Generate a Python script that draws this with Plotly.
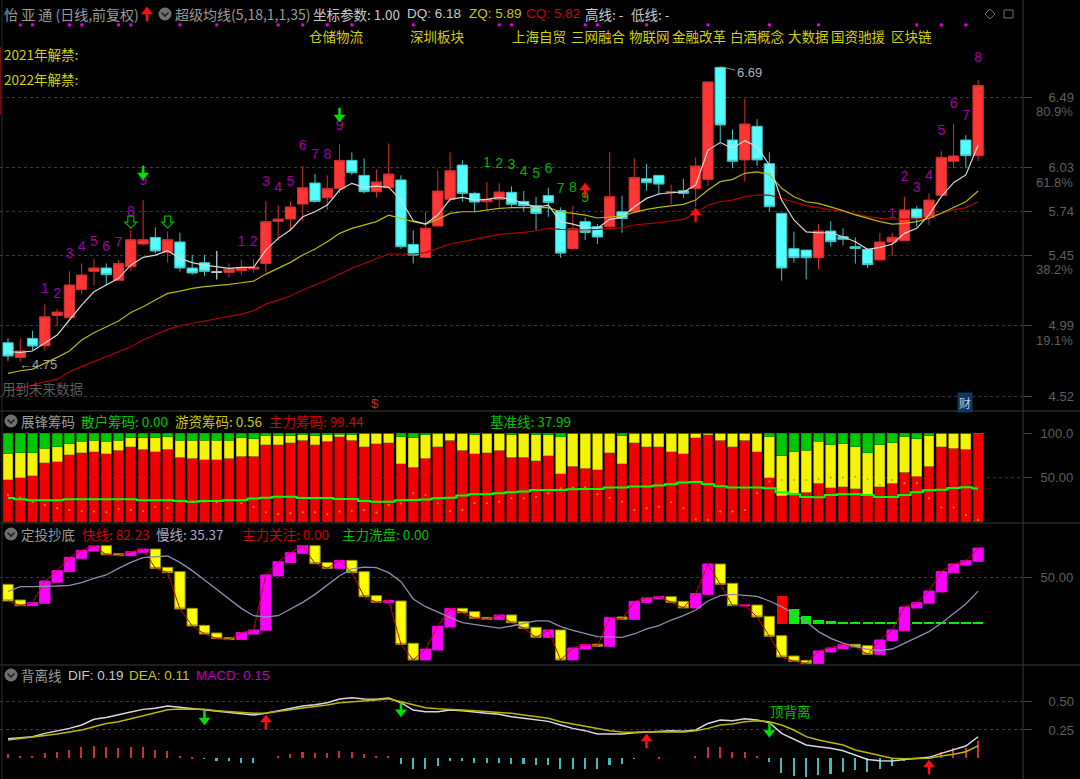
import plotly.graph_objects as go

W, H = 1080, 779
SPLIT = 1023

# ---------- main panel ----------
k_open = [4.875,4.779,4.904,4.856,5.055,5.040,5.226,5.345,5.367,5.286,5.375,5.525,5.568,5.470,5.538,5.367,5.402,5.340,5.338,5.349,
          5.360,5.397,5.674,5.689,5.788,5.926,5.829,5.891,6.075,5.976,5.869,5.895,5.946,5.522,5.437,5.643,5.819,6.044,5.858,5.803,
          5.819,5.865,5.805,5.777,5.843,5.744,5.494,5.672,5.639,5.639,5.737,5.737,5.954,5.976,5.862,5.875,5.889,5.950,6.687,6.209,
          6.078,6.299,6.053,5.727,5.494,5.485,5.435,5.610,5.573,5.507,5.490,5.420,5.538,5.547,5.755,5.700,5.845,6.069,6.209,6.106]
k_close = [4.788,4.821,4.854,5.046,5.077,5.255,5.321,5.367,5.323,5.397,5.553,5.553,5.479,5.553,5.367,5.334,5.345,5.340,5.360,5.371,
           5.373,5.672,5.689,5.768,5.895,5.805,5.889,6.075,5.994,5.869,5.933,5.985,5.507,5.452,5.628,5.873,6.007,5.858,5.801,5.819,
           5.867,5.786,5.777,5.726,5.799,5.465,5.625,5.601,5.571,5.836,5.693,5.963,5.928,5.919,5.869,5.858,6.038,6.591,6.308,6.069,
           6.314,6.078,5.770,5.367,5.435,5.435,5.610,5.540,5.556,5.496,5.389,5.538,5.569,5.749,5.696,5.814,6.095,6.104,6.106,6.567]
k_high = [4.905,4.904,4.954,5.130,5.099,5.345,5.397,5.426,5.397,5.419,5.617,5.814,5.634,5.606,5.599,5.454,5.454,5.479,5.397,5.424,
          5.426,5.807,5.779,5.807,6.038,5.985,5.976,6.182,6.128,6.088,6.016,6.187,5.976,5.615,5.737,6.007,6.128,6.075,5.869,5.933,
          5.924,5.904,5.873,5.836,5.895,5.766,5.775,5.700,5.656,6.128,5.843,6.088,6.051,5.981,5.917,5.954,6.095,6.591,6.690,6.279,
          6.479,6.345,6.128,5.727,5.606,5.485,5.656,5.674,5.628,5.569,5.490,5.599,5.599,5.836,5.775,5.858,6.135,6.314,6.240,6.604]
k_low = [4.757,4.750,4.827,4.823,4.985,5.040,5.196,5.255,5.255,5.286,5.349,5.514,5.463,5.404,5.343,5.323,5.314,5.292,5.305,5.321,
         5.336,5.336,5.551,5.617,5.674,5.797,5.748,5.858,5.979,5.858,5.829,5.895,5.492,5.397,5.437,5.643,5.803,5.803,5.737,5.748,
         5.766,5.770,5.742,5.617,5.704,5.435,5.494,5.551,5.525,5.628,5.599,5.737,5.875,5.847,5.786,5.829,5.770,5.906,6.192,6.023,
         5.935,6.038,5.740,5.284,5.402,5.292,5.360,5.507,5.516,5.396,5.367,5.420,5.446,5.547,5.639,5.648,5.845,6.025,6.023,6.069]
ma_white = [4.816,4.812,4.821,4.875,4.926,5.025,5.123,5.211,5.255,5.299,5.386,5.437,5.452,5.481,5.430,5.402,5.386,5.375,5.364,5.371,
            5.371,5.485,5.562,5.617,5.704,5.737,5.781,5.880,5.924,5.897,5.906,5.897,5.814,5.678,5.656,5.715,5.819,5.832,5.814,5.819,
            5.832,5.819,5.792,5.766,5.781,5.672,5.656,5.634,5.628,5.687,5.700,5.770,5.825,5.854,5.862,5.867,5.913,6.143,6.192,6.154,
            6.205,6.165,6.045,5.814,5.683,5.604,5.599,5.599,5.573,5.540,5.490,5.503,5.523,5.595,5.628,5.716,5.836,5.928,5.979,6.176]
ma_yellow = [4.674,4.691,4.702,4.739,4.779,4.821,4.893,4.941,4.981,5.018,5.075,5.112,5.156,5.200,5.215,5.233,5.244,5.250,5.259,5.270,
             5.281,5.327,5.364,5.404,5.452,5.492,5.540,5.595,5.628,5.650,5.672,5.715,5.693,5.672,5.656,5.687,5.726,5.737,5.737,5.748,
             5.759,5.764,5.766,5.764,5.764,5.737,5.726,5.715,5.696,5.704,5.709,5.733,5.753,5.766,5.775,5.786,5.814,5.880,5.935,5.950,
             5.990,5.999,5.983,5.891,5.836,5.803,5.792,5.770,5.744,5.716,5.694,5.672,5.656,5.661,5.672,5.694,5.727,5.766,5.803,5.874]
ma_red = [4.560,4.575,4.597,4.619,4.634,4.685,4.718,4.750,4.783,4.816,4.849,4.893,4.926,4.963,4.987,5.003,5.020,5.036,5.051,5.064,
          5.086,5.130,5.156,5.183,5.222,5.255,5.288,5.327,5.365,5.397,5.430,5.459,5.459,5.459,5.468,5.496,5.525,5.540,5.555,5.568,
          5.588,5.595,5.601,5.612,5.628,5.621,5.617,5.617,5.621,5.628,5.632,5.650,5.656,5.665,5.676,5.687,5.727,5.781,5.803,5.814,
          5.836,5.847,5.847,5.825,5.803,5.777,5.764,5.749,5.740,5.722,5.705,5.694,5.689,5.689,5.689,5.698,5.727,5.749,5.764,5.803]
doji_idx = [17]
dot_idx = [1,2,5,6,9,10,14,17,22,24,26,28,33,40,41,47,48,52,57,62,66,74,76,78]
dot_level = 6.966

purple_idx = [3,4,5,6,7,8,9,10,11,19,20,21,22,23,24,25,26,27,72,73,74,75,76,77,78,79]
purple_txt = ["1","2","3","4","5","6","7","8","9","1","2","3","4","5","6","7","8","9","1","2","3","4","5","6","7","8"]
purple_y = [5.226,5.196,5.459,5.503,5.533,5.503,5.525,5.733,5.935,5.533,5.533,5.928,5.889,5.928,6.163,6.110,6.104,6.301,
            5.716,5.961,5.891,5.972,6.264,6.444,6.363,6.742]
green_idx = [39,40,41,42,43,44,45,46,47]
green_txt = ["1","2","3","4","5","6","7","8","9"]
green_y = [6.055,6.051,6.038,5.994,5.979,6.018,5.884,5.891,5.825]

price_ticks = [6.49,6.03,5.74,5.45,4.99,4.52]
pct_labels = ["80.9%","61.8%","38.2%","19.1%"]
pct_levels = [6.395,5.930,5.357,4.893]
concepts = ["仓储物流","深圳板块","上海自贸","三网融合","物联网","金融改革","白酒概念","大数据","国资驰援","区块链"]
concept_px = [310,411,513,572,630,673,731,789,832,892]

# ---------- 展锋筹码 ----------
chip_red = [47.6,50.2,52.4,66.7,68.2,75.7,78.3,79.4,76.8,80.9,84.6,82.0,79.4,82.0,73.0,71.9,70.4,70.4,71.9,74.2,
            74.2,86.9,86.9,89.5,92.1,86.9,91.0,95.9,92.1,84.6,88.4,89.5,65.5,61.8,71.9,84.6,92.1,80.9,76.8,78.3,
            80.9,73.0,73.0,69.3,74.5,54.3,62.9,60.7,59.2,78.3,65.5,89.5,84.6,84.6,79.4,76.8,94.8,98.5,92.1,84.6,
            92.1,79.4,50.2,30.0,32.6,33.7,43.8,39.0,40.1,37.5,30.0,40.1,43.8,56.2,51.7,62.9,84.6,83.1,82.0,99.44]
chip_yellow_top = [76.8,78.3,78.3,83.1,84.6,88.4,91.0,92.1,91.0,92.1,94.8,94.8,94.8,95.9,92.1,92.1,92.1,92.1,92.1,94.8,
                   93.6,97.4,97.4,97.4,98.5,97.4,98.5,98.9,98.5,99.6,99.6,99.6,96.3,94.8,98.5,99.6,99.6,99.6,98.1,99.6,
                   99.6,98.1,99.6,98.1,98.1,95.9,99.6,99.6,99.6,99.6,97.4,99.6,99.6,99.6,99.6,99.6,99.6,99.6,99.6,99.6,
                   99.6,99.6,95.9,74.5,79.4,80.9,91.0,87.3,88.4,84.6,78.3,87.3,89.5,95.9,93.6,97.4,99.6,99.6,99.6,100.0]
chip_line = [27.3,25.8,24.7,24.7,24.7,25.8,25.8,25.8,25.8,25.8,25.8,24.7,24.7,24.7,24.0,23.2,24.0,24.0,24.7,24.7,
             26.6,27.7,28.8,28.8,27.3,27.3,27.3,26.2,26.2,24.0,23.2,23.2,24.7,25.1,25.5,27.0,27.7,30.0,31.5,31.5,
             32.6,33.7,34.5,36.3,36.3,36.3,37.1,37.5,37.5,39.0,39.0,40.1,40.1,41.2,42.7,44.6,45.3,42.7,40.4,39.0,
             39.0,39.0,38.2,33.7,31.5,28.5,28.1,30.7,31.5,31.5,30.7,28.5,28.5,30.7,33.7,36.0,36.7,38.6,39.3,37.99]
chip_dots = [30.7,27.7,23.2,19.5,15.7,13.9,12.7,12.0,11.2,15.0,13.9,12.7,17.6,15.7,23.2,23.2,23.2,22.5,25.1,21.3,
             17.6,11.2,9.0,10.1,11.2,11.2,9.0,12.0,12.7,13.9,10.9,19.5,21.0,32.6,30.7,21.3,12.7,13.9,21.3,21.3,
             23.2,27.0,27.0,28.8,32.6,38.2,39.0,39.3,31.5,27.7,23.2,13.9,15.7,17.6,22.5,15.7,3.7,2.6,12.0,12.0,
             13.9,32.6,45.7,47.6,47.6,47.6,48.7,50.2,50.2,51.3,48.7,41.9,47.6,43.8,43.8,27.0,16.5,16.5,8.2,2.6]

# ---------- 定投抄底 ----------
fast_open = [42.8,25.8,19.6,22.2,45.0,56.6,71.1,79.0,84.8,76.1,74.0,77.6,81.2,61.3,56.6,16.7,-1.8,-10.1,-15.2,-17.3,
             -11.2,-7.2,51.9,66.4,76.5,84.8,66.4,60.2,68.9,56.6,30.5,23.2,24.7,-21.3,-39.4,-28.6,-3.6,16.7,13.1,6.9,
             4.8,9.5,2.2,-3.9,-14.8,-6.8,-39.4,-27.5,-22.4,-24.6,7.3,4.8,23.2,27.2,29.4,24.3,17.1,31.9,64.9,43.9,
             19.3,20.3,8.0,-13.0,-35.1,-39.8,-43.4,-30.7,-27.1,-22.4,-23.9,-33.3,-18.4,-7.6,17.1,22.2,34.5,55.5,63.8,67.8]
fast_close = [24.7,19.6,22.9,46.4,57.7,72.2,79.8,84.5,75.0,74.0,78.3,81.2,60.2,55.5,16.0,-2.5,-11.2,-16.2,-17.3,-9.7,
              -6.8,53.0,67.4,77.2,84.8,65.3,60.2,68.9,55.5,29.4,23.2,25.4,-22.4,-39.4,-27.5,-2.8,16.7,12.0,5.9,4.8,
              9.5,1.1,-5.0,-14.8,-6.8,-39.4,-26.4,-22.8,-24.6,6.9,4.8,24.3,28.0,29.4,23.2,17.1,32.7,64.9,42.8,19.6,
              20.3,7.3,-13.7,-36.2,-40.9,-43.4,-29.6,-26.4,-22.4,-25.3,-33.3,-17.7,-6.8,18.2,22.9,35.6,56.6,64.9,68.5,82.23]
slow_line = [34.8,40.3,40.3,40.3,41.0,41.7,44.6,49.3,53.0,60.2,66.7,71.8,72.9,73.6,66.7,57.7,47.5,37.4,27.6,16.7,
             8.7,7.3,8.7,16.0,23.2,31.9,42.1,52.2,59.5,61.6,60.9,55.5,45.7,26.9,18.5,12.4,6.9,1.1,-0.7,-3.2,
             -4.7,-2.5,0.4,3.0,3.0,-3.2,-7.2,-10.4,-14.1,-14.4,-14.8,-11.2,-5.7,-2.1,4.0,8.7,14.9,24.7,30.5,31.9,
             31.2,29.8,24.7,18.5,10.2,2.2,-8.6,-15.9,-21.0,-24.9,-27.8,-29.3,-27.5,-21.3,-14.8,-8.6,0.4,11.3,21.4,35.37]
focus_idx = [63]
focus_val = [30.4]
wash_idx = [64,65,66,67,68,69,70,71,72,73,74,75,76,77,78,79]
wash_val = [15.6,8.0,4.3,2.9,1.8,1.8,1.8,1.8,1.5,0.9,0.9,0.9,0.9,0.9,0.9,0.9]

# ---------- 背离线 ----------
dif = [.173,.185,.191,.220,.241,.264,.294,.344,.361,.382,.409,.432,.441,.462,.450,.444,.426,.414,.403,.391,
       .382,.397,.420,.441,.462,.473,.491,.523,.535,.523,.521,.532,.491,.426,.412,.412,.426,.420,.406,.397,
       .388,.367,.353,.338,.326,.294,.264,.244,.214,.214,.214,.226,.232,.241,.244,.238,.250,.308,.338,.332,
       .350,.338,.314,.220,.167,.117,.102,.088,.067,.029,-.010,-.021,-.024,-.010,-.004,.008,.043,.073,.108,.19]
dea = [.161,.173,.185,.197,.214,.232,.250,.279,.308,.323,.350,.379,.403,.429,.435,.435,.432,.420,.414,.403,
       .397,.400,.412,.429,.444,.456,.470,.491,.497,.503,.515,.526,.500,.473,.447,.438,.429,.426,.420,.412,
       .403,.397,.382,.367,.353,.323,.303,.285,.264,.244,.232,.229,.235,.235,.235,.232,.244,.264,.294,.303,
       .323,.332,.323,.294,.250,.191,.161,.141,.117,.073,.049,.023,.000,-.004,-.004,.000,.020,.035,.058,.11]
macd = [.035,.024,.024,.047,.059,.077,.097,.106,.097,.088,.097,.097,.077,.065,.024,.003,-.005,-.027,-.027,-.038,
        -.038,0,.018,.038,.056,.047,.047,.065,.056,.035,.018,.018,-.047,-.097,-.097,-.065,-.027,-.027,-.038,-.038,
        -.038,-.05,-.05,-.059,-.059,-.094,-.094,-.094,-.094,-.059,-.047,-.006,0,.006,0,0,.018,.097,.097,.053,
        .053,.024,-.035,-.130,-.153,-.168,-.144,-.138,-.118,-.106,-.118,-.097,-.065,-.024,-.006,0,.053,.088,.094,.15]

xs = list(range(len(k_open)))
FONT = "Liberation Sans, Noto Sans CJK SC"
CJK = "Noto Sans CJK SC, Liberation Sans"
GRAY = "#9a9a9a"
TICK = "#5e5e5e"


def py(px):
    return 1 - px / H


def fx(px):
    return px / SPLIT


fig = go.Figure()

# ---- main panel traces
fig.add_trace(go.Candlestick(
    x=xs, open=k_open, high=k_high, low=k_low, close=k_close, yaxis="y", xaxis="x", whiskerwidth=0,
    increasing=dict(line=dict(color="#d63030", width=1), fillcolor="#ff3636"),
    decreasing=dict(line=dict(color="#44c4c4", width=1), fillcolor="#54ffff"), hoverinfo="skip"))
fig.add_trace(go.Candlestick(
    x=doji_idx, open=[k_open[i] for i in doji_idx], high=[k_high[i] for i in doji_idx],
    low=[k_low[i] for i in doji_idx], close=[k_close[i] for i in doji_idx], yaxis="y", xaxis="x", whiskerwidth=0,
    increasing=dict(line=dict(color="#c8c8c8", width=1), fillcolor="#c8c8c8"),
    decreasing=dict(line=dict(color="#c8c8c8", width=1), fillcolor="#c8c8c8"), hoverinfo="skip"))
for vals, col in [(ma_red, "#b00000"), (ma_yellow, "#b8b800"), (ma_white, "#d8d8d8")]:
    fig.add_trace(go.Scatter(x=xs, y=vals, mode="lines", line=dict(color=col, width=1.2), yaxis="y", hoverinfo="skip"))
fig.add_trace(go.Scatter(x=dot_idx, y=[dot_level] * len(dot_idx), mode="markers", yaxis="y", hoverinfo="skip", cliponaxis=False,
                         marker=dict(color="#e000e0", size=3, symbol="square")))
fig.add_trace(go.Scatter(x=purple_idx, y=purple_y, text=purple_txt, mode="text", yaxis="y", hoverinfo="skip",
                         textfont=dict(color="#a000a0", size=14, family=FONT)))
fig.add_trace(go.Scatter(x=green_idx, y=green_y, text=green_txt, mode="text", yaxis="y", hoverinfo="skip",
                         textfont=dict(color="#00b000", size=14, family=FONT)))

# ---- chips panel
chip_yellow = [t - r for t, r in zip(chip_yellow_top, chip_red)]
chip_green = [100 - t for t in chip_yellow_top]
for vals, col, edge in [(chip_red, "#f00000", "#a00000"), (chip_yellow, "#f4f400", "#a8a800"), (chip_green, "#00c800", "#009000")]:
    fig.add_trace(go.Bar(x=xs, y=vals, width=0.8, marker=dict(color=col, line=dict(color=edge, width=0.7)), yaxis="y2", hoverinfo="skip"))
fig.add_trace(go.Scatter(x=xs, y=chip_dots, mode="markers", marker=dict(color="#c8a000", size=2), yaxis="y2", hoverinfo="skip"))
fig.add_trace(go.Scatter(x=xs, y=chip_line, mode="lines", line=dict(color="#00ff00", width=2, shape="hvh"), yaxis="y2", hoverinfo="skip"))

# ---- fast/slow panel
fig.add_trace(go.Bar(x=focus_idx, y=focus_val, width=0.82, marker=dict(color="#ff0000", line=dict(width=0)), yaxis="y3", hoverinfo="skip"))
fig.add_trace(go.Bar(x=wash_idx, y=wash_val, width=0.82, marker=dict(color="#00f000", line=dict(width=0)), yaxis="y3", hoverinfo="skip"))
fig.add_trace(go.Candlestick(
    x=xs, open=fast_open, close=fast_close,
    high=[max(a, b) for a, b in zip(fast_open, fast_close)], low=[min(a, b) for a, b in zip(fast_open, fast_close)],
    yaxis="y3", xaxis="x", whiskerwidth=0,
    increasing=dict(line=dict(color="#f000f0", width=1), fillcolor="#ff00ff"),
    decreasing=dict(line=dict(color="#8f8f00", width=1), fillcolor="#ffff00"), hoverinfo="skip"))
fig.add_trace(go.Scatter(x=xs, y=fast_close, mode="lines", line=dict(color="#d00000", width=1), yaxis="y3", hoverinfo="skip"))
fig.add_trace(go.Scatter(x=xs, y=slow_line, mode="lines", line=dict(color="#8c8cb0", width=1.3), yaxis="y3", hoverinfo="skip"))

# ---- MACD panel
fig.add_trace(go.Bar(x=xs, y=macd, width=0.13, yaxis="y4", hoverinfo="skip",
                     marker=dict(color=["#c83232" if v >= 0 else "#3fbcbc" for v in macd], line=dict(width=0))))
fig.add_trace(go.Scatter(x=xs, y=dif, mode="lines", line=dict(color="#d8d8d8", width=1.5), yaxis="y4", hoverinfo="skip"))
fig.add_trace(go.Scatter(x=xs, y=dea, mode="lines", line=dict(color="#b8b800", width=1.5), yaxis="y4", hoverinfo="skip"))

# ---------- annotations ----------
ann = []
shapes = []


def text(px, pyy, s, color, size=13.5, family=CJK, anchor="left"):
    off = 3 if anchor == "left" else 0
    ann.append(dict(x=fx(px - off), y=py(pyy), xref="paper", yref="paper", text=s, showarrow=False, xanchor=anchor, yanchor="middle",
                    font=dict(color=color, size=size, family=family)))


ARROW_DOWN = "M 0 0 L -5.5 7 L -1 7 L -1 14 L 1 14 L 1 7 L 5.5 7 Z"
ARROW_UP = "M 0 0 L -5.5 -7 L -1 -7 L -1 -14 L 1 -14 L 1 -7 L 5.5 -7 Z"
HOLLOW_DOWN = "M 0 -6 L -6 0 L -3 0 L -3 6 L 3 6 L 3 0 L 6 0 Z"


def arrow(i, v, yref, color, up):
    shapes.append(dict(type="path", xref="x", yref=yref, xsizemode="pixel", ysizemode="pixel", xanchor=i, yanchor=v,
                       path=ARROW_UP if up else ARROW_DOWN, fillcolor=color, line=dict(color=color, width=0.5)))


text(5, 14, "怡 亚 通 (日线,前复权)", GRAY, 14)
text(176, 14, "超级均线(5,18,1,1,35)", GRAY, 14)
text(314, 14, "坐标参数: 1.00", "#c8c8c8", 13.5)
text(408, 14, "DQ: 6.18", "#c8c8c8", 13.5, FONT)
text(470, 14, "ZQ: 5.89", "#c8c800", 13.5, FONT)
text(527, 14, "CQ: 5.82", "#c80000", 13.5, FONT)
text(586, 14, "高线: -", "#c8c8c8", 13.5)
text(632, 14, "低线: -", "#c8c8c8", 13.5)
for s, x0 in zip(concepts, concept_px):
    text(x0, 36, s, "#d0d000", 13.5)
text(5, 54, "2021年解禁:", "#d0d000", 13.5)
text(5, 79, "2022年解禁:", "#d0d000", 13.5)
text(3, 388, "用到未来数据", "#5c5c5c", 13.5)
text(375, 404, "$", "#e02020", 13, FONT, "center")
ann.append(dict(x=fx(965), y=py(402), xref="paper", yref="paper", text="财", showarrow=False, xanchor="center", yanchor="middle",
                bgcolor="#15365c", font=dict(color="#a0d0ff", size=12, family=CJK)))
for s, v in zip(pct_labels, pct_levels):
    ann.append(dict(x=fx(1075), y=v, xref="paper", yref="y", text=s, showarrow=False, xanchor="right", yanchor="middle",
                    font=dict(color=TICK, size=13, family=FONT)))

text(22, 421, "展锋筹码", GRAY, 13.5)
text(82, 421, "散户筹码: 0.00", "#00c800", 13.5)
text(176, 421, "游资筹码: 0.56", "#c8c800", 13.5)
text(270, 421, "主力筹码: 99.44", "#d00000", 13.5)
text(491, 421, "基准线: 37.99", "#00c000", 13.5)
text(22, 534, "定投抄底", GRAY, 13.5)
text(83, 534, "快线: 82.23", "#d00000", 13.5)
text(157, 534, "慢线: 35.37", "#a8a8c8", 13.5)
text(243, 534, "主力关注: 0.00", "#d00000", 13.5)
text(343, 534, "主力洗盘: 0.00", "#00c000", 13.5)
text(22, 675, "背离线", GRAY, 13.5)
text(69, 675, "DIF: 0.19", "#c8c8c8", 13.5, FONT)
text(130, 675, "DEA: 0.11", "#c8c800", 13.5, FONT)
text(197, 675, "MACD: 0.15", "#c000c0", 13.5, FONT)
text(790, 711, "顶背离", "#00c000", 13.5, CJK, "center")

ann.append(dict(x=58, y=6.69, xref="x", yref="y", text="6.69", showarrow=True, ax=29, ay=6, arrowhead=0, arrowwidth=1, arrowcolor="#909090",
                font=dict(color="#b0b0b0", size=13, family=FONT)))
ann.append(dict(x=0.7, y=4.73, xref="x", yref="y", text="←4.75", showarrow=False, xanchor="left", yanchor="middle",
                font=dict(color="#a0a0a0", size=13, family=FONT)))
for i, v in [(10, 5.669), (13, 5.669)]:
    shapes.append(dict(type="path", xref="x", yref="y", xsizemode="pixel", ysizemode="pixel", xanchor=i, yanchor=v,
                       path=HOLLOW_DOWN, line=dict(color="#00b000", width=1.2)))
arrow(11, 5.946, "y", "#00e000", False)
arrow(27, 6.327, "y", "#00e000", False)
arrow(47, 5.926, "y", "#ff1010", True)
arrow(56, 5.762, "y", "#ff1010", True)
arrow(16, .294, "y4", "#00e000", False)
arrow(21, .382, "y4", "#ff1010", True)
arrow(32, .367, "y4", "#00e000", False)
arrow(52, .214, "y4", "#ff1010", True)
arrow(62, .185, "y4", "#00e000", False)
arrow(75, -.016, "y4", "#ff1010", True)
shapes.append(dict(type="path", xref="paper", yref="paper", xsizemode="pixel", ysizemode="pixel", xanchor=fx(147), yanchor=py(7),
                   path=ARROW_UP, fillcolor="#ff1010", line=dict(color="#ff1010", width=0.5)))

# ---------- chrome shapes ----------
for yy in [411, 523, 665]:
    shapes.append(dict(type="line", xref="paper", yref="paper", x0=0, x1=fx(W), y0=py(yy), y1=py(yy), line=dict(color="#3a3a3a", width=1)))
shapes.append(dict(type="line", xref="paper", yref="paper", x0=1, x1=1, y0=0, y1=1, line=dict(color="#3a3a3a", width=1)))
shapes.append(dict(type="line", xref="paper", yref="paper", x0=fx(2), x1=fx(2), y0=0, y1=1, line=dict(color="#2a2a2a", width=1)))
shapes.append(dict(type="line", xref="paper", yref="paper", x0=fx(0.5), x1=fx(0.5), y0=py(47), y1=py(115), line=dict(color="#701010", width=1)))
shapes.append(dict(type="line", xref="paper", yref="y2", x0=fx(3), x1=1, y0=50, y1=50, layer="below", line=dict(color="#3a3a3a", width=1, dash="dot")))
for cx, cy in [(165, 14), (11, 421), (11, 534), (11, 675)]:
    shapes.append(dict(type="circle", xref="paper", yref="paper", x0=fx(cx - 6.5), x1=fx(cx + 6.5), y0=py(cy + 6.5), y1=py(cy - 6.5),
                       fillcolor="#707070", line=dict(width=0)))
    shapes.append(dict(type="path", xref="paper", yref="paper",
                       path=f"M {fx(cx-3.5)} {py(cy-1.5)} L {fx(cx)} {py(cy+2)} L {fx(cx+3.5)} {py(cy-1.5)}",
                       line=dict(color="#202020", width=1.6)))
shapes.append(dict(type="path", xref="paper", yref="paper",
                   path=f"M {fx(985)} {py(14)} L {fx(990)} {py(9)} L {fx(995)} {py(14)} L {fx(990)} {py(19)} Z", line=dict(color="#707070", width=1)))
shapes.append(dict(type="rect", xref="paper", yref="paper", x0=fx(1004), x1=fx(1013), y0=py(18), y1=py(10), line=dict(color="#707070", width=1)))

x_range = [(0 - 8) / 12.28, (SPLIT - 8) / 12.28]


def yax(dom, rng, tickvals, ticktext, standoff, grid=True):
    return dict(domain=dom, range=rng, side="right", anchor="x", tickmode="array", tickvals=tickvals, ticktext=ticktext,
                tickfont=dict(color=TICK, size=13, family=FONT), ticks="outside", ticklen=8, tickcolor="#444444",
                ticklabelstandoff=standoff, showgrid=grid, gridcolor="#3a3a3a", griddash="dot", gridwidth=1,
                zeroline=False, showline=False, fixedrange=True)


fig.update_layout(
    width=W, height=H, autosize=False, margin=dict(l=0, r=W - SPLIT, t=0, b=0),
    paper_bgcolor="#000000", plot_bgcolor="#000000", showlegend=False,
    barmode="stack", boxmode="overlay", boxgap=0.16, boxgroupgap=0, hovermode=False,
    xaxis=dict(domain=[0, 1], range=x_range, visible=False, rangeslider=dict(visible=False), fixedrange=True),
    yaxis=yax([py(410), py(24)], [4.433, 6.972], price_ticks, [f"{t:.2f}" for t in price_ticks], 14),
    yaxis2=yax([py(522.3), py(412)], [0, 123.9], [50, 100], ["50.00", "100.0"], 6, grid=False),
    yaxis3=yax([py(665), py(524)], [-44.9, 108.4], [50], ["50.00"], 6),
    yaxis4=yax([0, py(666)], [-.183, .815], [.25, .5], ["0.25", "0.50"], 14),
    annotations=ann, shapes=shapes,
)

fig.write_html("out.html", config={"displayModeBar": False}, post_script="document.body.style.margin='0';document.body.style.background='#000';")
